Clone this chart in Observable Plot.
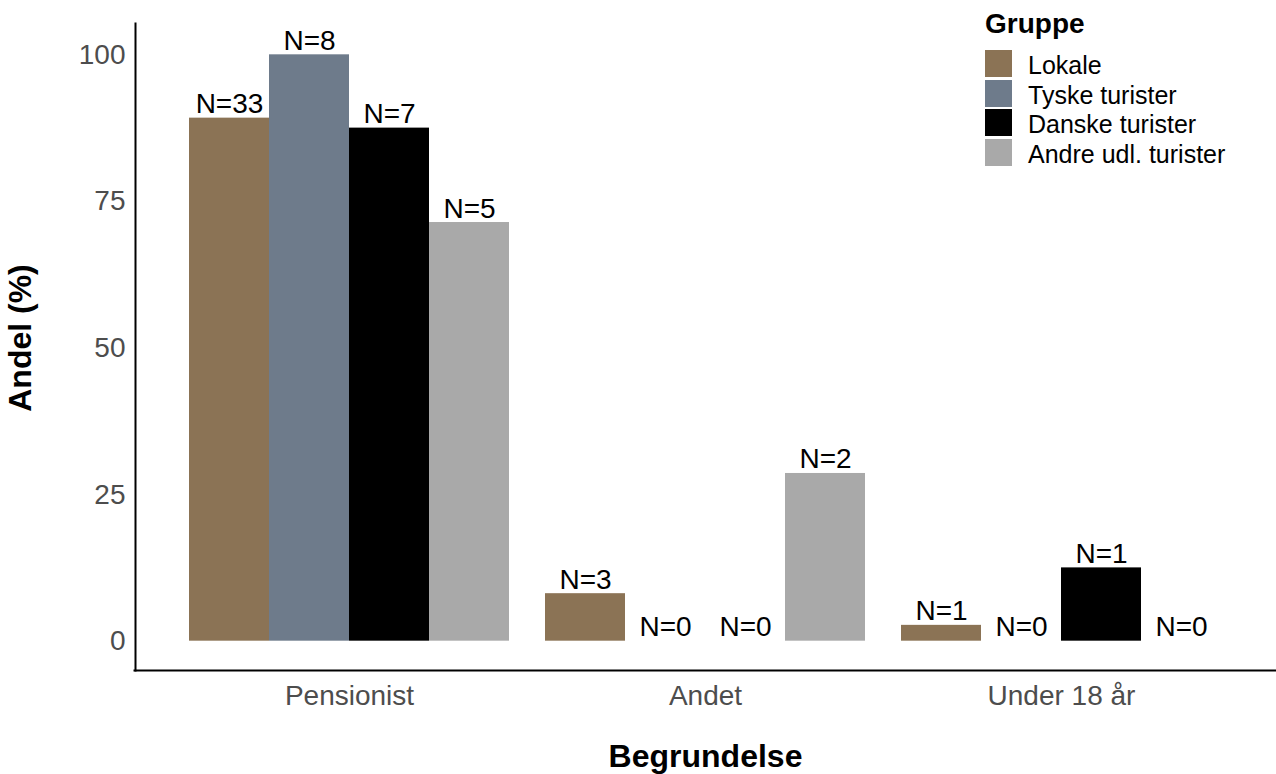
<!DOCTYPE html>
<html><head><meta charset="utf-8">
<script src="https://cdn.jsdelivr.net/npm/d3@7"></script>
<script src="https://cdn.jsdelivr.net/npm/@observablehq/plot@0.6"></script>
<style>
html,body{margin:0;padding:0;background:#fff;}
#wrap{position:relative;width:1276px;height:774px;font-family:"Liberation Sans",Arial,sans-serif;overflow:hidden;}
#wrap svg{position:absolute;left:0;top:0;}
.lg-title{position:absolute;left:985px;top:7px;font-size:28px;font-weight:bold;line-height:34px;color:#000;}
.lg-key{position:absolute;left:985px;width:27px;height:27px;}
.lg-lab{position:absolute;left:1028px;font-size:25px;line-height:27px;color:#000;white-space:nowrap;}
</style></head><body><div id="wrap"></div>
<script>
const categories = ["Pensionist", "Andet", "Under 18 år"];
const groups = ["Lokale", "Tyske turister", "Danske turister", "Andre udl. turister"];
const colors = ["#8B7355", "#6E7B8B", "#000000", "#A9A9A9"];
// percent per category (Pensionist, Andet, Under 18 år)
const lokalePct = [89.2, 8.1, 2.7];
const tyskePct = [100, 0, 0];
const danskePct = [87.5, 0, 12.5];
const andrePct = [71.4, 28.6, 0];
// counts per category
const lokaleN = [33, 3, 1];
const tyskeN = [8, 0, 0];
const danskeN = [7, 0, 1];
const andreN = [5, 2, 0];
const yTicks = [0, 25, 50, 75, 100];
const xTitle = "Begrundelse";
const yTitle = "Andel (%)";
const legendTitle = "Gruppe";

const pcts = [lokalePct, tyskePct, danskePct, andrePct];
const ns = [lokaleN, tyskeN, danskeN, andreN];
const rows = [];
groups.forEach((g, gi) => categories.forEach((c, ci) => rows.push({category: c, group: g, value: pcts[gi][ci], n: ns[gi][ci]})));

const font = "Liberation Sans, Arial, sans-serif";
const chart = Plot.plot({
  width: 1276, height: 774,
  marginLeft: 188, marginRight: 54, marginTop: 25, marginBottom: 104,
  style: {fontFamily: font, background: "white", color: "black", overflow: "visible"},
  fx: {domain: categories, paddingInner: 0.1, paddingOuter: 0, label: null},
  x: {domain: groups, padding: 0, axis: null},
  y: {domain: [-5, 105], axis: null},
  color: {domain: groups, range: colors},
  marks: [
    Plot.barY(rows, {fx: "category", x: "group", y: "value", fill: "group"}),
    Plot.text(rows, {fx: "category", x: "group", y: "value", text: d => "N=" + d.n, lineAnchor: "bottom", dy: -5, fontSize: 28, fill: "black"}),
    Plot.axisFx({anchor: "bottom", tickSize: 0, tickPadding: 15, fontSize: 28, color: "#4d4d4d", label: null}),
    Plot.axisY({ticks: yTicks, tickSize: 0, tickPadding: 64, fontSize: 28, color: "#4d4d4d", label: null}),
    Plot.frame({anchor: "left", stroke: "black", strokeWidth: 2, insetLeft: -54, insetRight: -54, insetTop: -2, facet: "super"}),
    Plot.frame({anchor: "bottom", stroke: "black", strokeWidth: 2, insetLeft: -55, insetRight: -54, facet: "super"}),
    Plot.text([xTitle], {text: d => d, frameAnchor: "bottom", textAnchor: "middle", lineAnchor: "bottom", dy: 96, fontSize: 32, fontWeight: "bold", fill: "black", facet: "super"}),
    Plot.text([yTitle], {text: d => d, frameAnchor: "left", textAnchor: "middle", rotate: -90, lineAnchor: "middle", dx: -169, dy: -10, fontSize: 32, fontWeight: "bold", fill: "black", facet: "super"})
  ]
});
const wrap = document.getElementById("wrap");
wrap.appendChild(chart);

const t = document.createElement("div");
t.className = "lg-title"; t.textContent = legendTitle; wrap.appendChild(t);
groups.forEach((g, i) => {
  const top = 50 + i * 29.5;
  const k = document.createElement("div");
  k.className = "lg-key"; k.style.top = top + "px"; k.style.background = colors[i];
  wrap.appendChild(k);
  const l = document.createElement("div");
  l.className = "lg-lab"; l.style.top = (top + 2) + "px"; l.textContent = g;
  wrap.appendChild(l);
});
</script></body></html>
